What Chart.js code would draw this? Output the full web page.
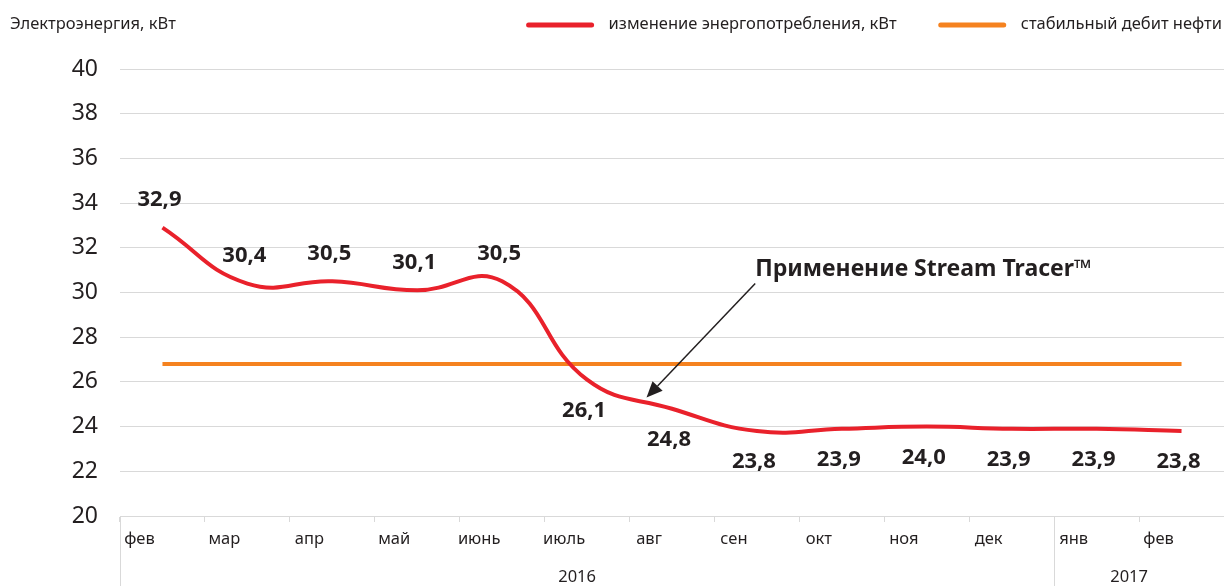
<!DOCTYPE html>
<html>
<head>
<meta charset="utf-8">
<script src="https://cdn.jsdelivr.net/npm/chart.js@4/dist/chart.umd.min.js"></script>
<style>
  html, body { margin: 0; padding: 0; background: #fff; }
  #wrap { width: 1224px; height: 586px; }
</style>
</head>
<body>
<div id="wrap"><canvas id="energyChart" width="1224" height="586"></canvas></div>
<script>
const months = ['фев', 'мар', 'апр', 'май', 'июнь', 'июль', 'авг', 'сен', 'окт', 'ноя', 'дек', 'янв', 'фев'];
const yearLabels = ['2016', '2017'];
const yearSpans = [11, 2];
const power = [32.9, 30.4, 30.5, 30.1, 30.5, 26.1, 24.8, 23.8, 23.9, 24.0, 23.9, 23.9, 23.8];
const oilRate = [26.8, 26.8, 26.8, 26.8, 26.8, 26.8, 26.8, 26.8, 26.8, 26.8, 26.8, 26.8, 26.8];
const yMin = 20, yMax = 40, yStep = 2;
const axisTitle = 'Электроэнергия, кВт';
// annotation anchors in data units: [category index, value]
const noteText = 'Применение Stream Tracer™';
const noteTail = [6.98, 30.4];
const noteTip = [5.7, 25.3];

const FONT = '"Noto Sans", sans-serif';
const INK = '#231f20';
const GRID = '#d9d9d9';
const RED = '#e9212b';
const ORANGE = '#f5821f';

const fmt = v => v.toFixed(1).replace('.', ',');

// y axis title, legend, data labels, arrow note, year row
const decor = {
    id: 'decor',
    afterDatasetsDraw(chart) {
        const ctx = chart.ctx;
        const x = chart.scales.x, y = chart.scales.y;
        ctx.save();

        // axis title
        ctx.font = '16.5px ' + FONT;
        ctx.fillStyle = INK;
        ctx.textBaseline = 'middle';
        ctx.textAlign = 'left';
        ctx.fillText(axisTitle, 10, 24);

        // legend, laid out from the right edge
        let right = chart.width - 2;
        const items = chart.data.datasets.slice().reverse();
        items.forEach(ds => {
            const tw = ctx.measureText(ds.label).width;
            const tx = right - tw;
            ctx.fillStyle = INK;
            ctx.fillText(ds.label, tx, 24);
            ctx.strokeStyle = ds.borderColor;
            ctx.lineWidth = 5;
            ctx.lineCap = 'round';
            ctx.beginPath();
            ctx.moveTo(tx - 80, 25);
            ctx.lineTo(tx - 17, 25);
            ctx.stroke();
            right = tx - 80 - 44;
        });

        // data labels
        const meta = chart.getDatasetMeta(0);
        ctx.font = 'bold 22px ' + FONT;
        ctx.fillStyle = INK;
        ctx.textAlign = 'center';
        meta.data.forEach((pt, i) => {
            const v = power[i];
            const above = v > oilRate[i];
            ctx.fillText(fmt(v), pt.x - 3, above ? pt.y - 28 : pt.y + 31);
        });

        // annotation arrow
        const tx = x.getPixelForValue(noteTail[0]), ty = y.getPixelForValue(noteTail[1]);
        const hx = x.getPixelForValue(noteTip[0]), hy = y.getPixelForValue(noteTip[1]);
        ctx.font = 'bold 23px ' + FONT;
        ctx.textAlign = 'left';
        ctx.fillText(noteText, tx, ty - 14);
        const ang = Math.atan2(hy - ty, hx - tx);
        const len = 16, wid = 7;
        const bx = hx - Math.cos(ang) * len, by = hy - Math.sin(ang) * len;
        ctx.strokeStyle = INK;
        ctx.lineWidth = 1.5;
        ctx.lineCap = 'butt';
        ctx.beginPath();
        ctx.moveTo(tx, ty);
        ctx.lineTo(bx, by);
        ctx.stroke();
        ctx.fillStyle = INK;
        ctx.beginPath();
        ctx.moveTo(hx, hy);
        ctx.lineTo(bx + Math.sin(ang) * wid, by - Math.cos(ang) * wid);
        ctx.lineTo(bx - Math.sin(ang) * wid, by + Math.cos(ang) * wid);
        ctx.closePath();
        ctx.fill();

        // year row and group separators
        const bottom = chart.height;
        const step = (x.right - x.left) / months.length;
        ctx.strokeStyle = GRID;
        ctx.lineWidth = 1;
        ctx.font = '16.5px ' + FONT;
        ctx.fillStyle = INK;
        ctx.textAlign = 'center';
        let start = 0;
        yearLabels.forEach((lab, k) => {
            const x0 = x.left + start * step;
            const x1 = x0 + yearSpans[k] * step;
            ctx.beginPath();
            ctx.moveTo(Math.round(x0) + 0.5, y.bottom);
            ctx.lineTo(Math.round(x0) + 0.5, bottom);
            ctx.stroke();
            ctx.fillText(lab, (x0 + x1) / 2 - 10, 577);
            start += yearSpans[k];
        });
        ctx.restore();
    }
};

new Chart(document.getElementById('energyChart'), {
    type: 'line',
    data: {
        labels: months,
        datasets: [{
            label: 'изменение энергопотребления, кВт',
            data: power,
            borderColor: RED,
            backgroundColor: RED,
            borderWidth: 4,
            tension: 0.45,
            pointRadius: 0,
            fill: false
        }, {
            label: 'стабильный дебит нефти',
            data: oilRate,
            borderColor: ORANGE,
            backgroundColor: ORANGE,
            borderWidth: 4,
            pointRadius: 0,
            fill: false
        }]
    },
    options: {
        responsive: false,
        animation: false,
        layout: { padding: { top: 69, left: 0, right: 0, bottom: 0 } },
        plugins: {
            legend: { display: false },
            tooltip: { enabled: false }
        },
        scales: {
            x: {
                offset: true,
                afterFit: s => { s.height = 70; },
                border: { color: GRID },
                grid: {
                    offset: true,
                    drawOnChartArea: false,
                    drawTicks: true,
                    tickLength: 6,
                    color: GRID
                },
                ticks: {
                    autoSkip: false,
                    maxRotation: 0,
                    labelOffset: -23,
                    padding: 7,
                    color: INK,
                    font: { family: FONT, size: 16.5 }
                }
            },
            y: {
                min: yMin,
                max: yMax,
                afterFit: s => { s.width = 120; },
                border: { display: false },
                grid: { color: GRID, drawTicks: false },
                ticks: {
                    stepSize: yStep,
                    padding: 22,
                    color: INK,
                    font: { family: FONT, size: 23 }
                }
            }
        }
    },
    plugins: [decor]
});
</script>
</body>
</html>
